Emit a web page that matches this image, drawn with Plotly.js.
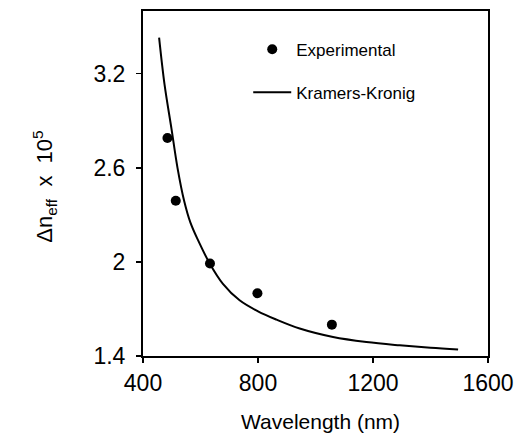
<!DOCTYPE html>
<html>
<head>
<meta charset="utf-8">
<script src="https://cdn.plot.ly/plotly-3.0.1.min.js"></script>
<style>html,body{margin:0;padding:0;background:#fff;}#chart{width:518px;height:441px;}</style>
</head>
<body>
<div id="chart"></div>
<script>
// Experimental data
var expWavelength = [485, 514, 633, 798, 1057];
var expDeltaN = [2.79, 2.39, 1.99, 1.80, 1.60];

// Kramers-Kronig curve
var kkWavelength = [456, 475, 499, 520, 543, 565, 591, 632, 678, 736, 800, 864, 945, 1061, 1177, 1293, 1400, 1496];
var kkDeltaN = [3.43, 3.13, 2.85, 2.60, 2.39, 2.25, 2.14, 1.99, 1.86, 1.755, 1.685, 1.632, 1.575, 1.521, 1.489, 1.468, 1.452, 1.441];

var xTicks = [400, 800, 1200, 1600];
var yTicks = [1.4, 2, 2.6, 3.2];

var FONT = 'Liberation Sans, Arial, sans-serif';

var traces = [
  {
    x: expWavelength, y: expDeltaN, type: 'scatter', mode: 'markers',
    name: 'Experimental', legendgroup: 'a',
    marker: {color: '#000', size: 10}
  },
  {
    x: kkWavelength, y: kkDeltaN, type: 'scatter', mode: 'lines',
    name: 'Kramers-Kronig', legendgroup: 'b',
    line: {color: '#000', width: 2, shape: 'spline'}
  }
];

var axisCommon = {
  showgrid: false, zeroline: false, showline: true, mirror: true,
  linecolor: '#000', linewidth: 2, ticks: 'outside', ticklen: 5,
  tickwidth: 1.5, tickcolor: '#000',
  tickfont: {family: FONT, size: 23, color: '#000'}
};

var layout = {
  width: 518, height: 441,
  margin: {l: 143, r: 30, t: 11, b: 85, pad: 0},
  paper_bgcolor: '#fff', plot_bgcolor: '#fff',
  showlegend: true,
  legend: {
    x: 0.305, y: 0.94, xanchor: 'left', yanchor: 'top',
    bgcolor: 'rgba(0,0,0,0)', borderwidth: 0,
    font: {family: FONT, size: 17, color: '#000'},
    traceorder: 'grouped', tracegroupgap: 18, itemwidth: 38
  },
  xaxis: Object.assign({}, axisCommon, {
    range: [400, 1600], tickvals: xTicks, ticktext: xTicks.map(String),
    ticklabelstandoff: 0
  }),
  yaxis: Object.assign({}, axisCommon, {
    range: [1.4, 3.6], tickvals: yTicks, ticktext: yTicks.map(String),
    ticklabelstandoff: 6
  }),
  annotations: [
    {
      xref: 'paper', yref: 'paper', x: 0.515, y: -0.19,
      xanchor: 'center', yanchor: 'middle', showarrow: false,
      text: 'Wavelength (nm)',
      font: {family: FONT, size: 21, color: '#000'}
    },
    {
      xref: 'paper', yref: 'paper', x: -0.285, y: 0.49,
      xanchor: 'center', yanchor: 'middle', showarrow: false,
      textangle: -90,
      text: '\u0394n<sub>eff</sub>\u00A0\u00A0x\u00A0\u00A010<sup>5</sup>',
      font: {family: FONT, size: 22, color: '#000'}
    }
  ]
};

Plotly.newPlot('chart', traces, layout, {staticPlot: true, displayModeBar: false});
</script>
</body>
</html>
